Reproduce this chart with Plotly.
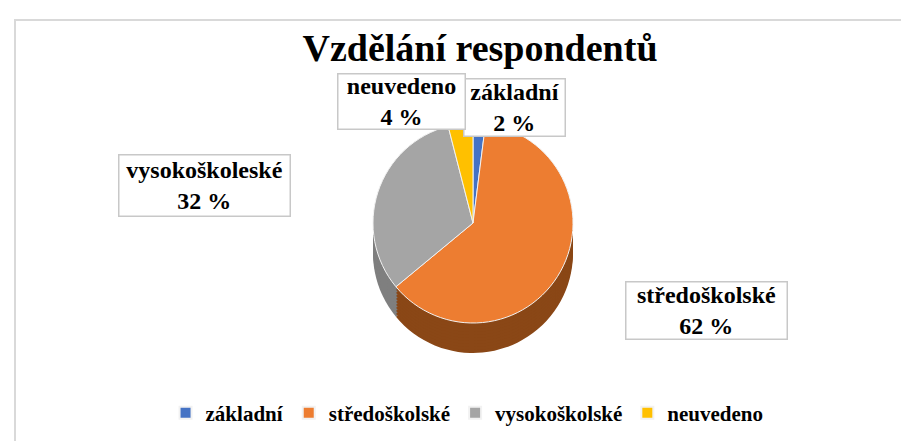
import plotly.graph_objects as go

# ---- data ----
categories = ["základní", "středoškolské", "vysokoškolské", "neuvedeno"]
box_labels = ["základní", "středoškolské", "vysokoškoleské", "neuvedeno"]
values = [2, 62, 32, 4]
title_text = "Vzdělání respondentů"

# ---- styles ----
colors = ["#4472C4", "#ED7D31", "#A5A5A5", "#FFC000"]
side_colors = ["#2F5597", "#8A4716", "#7F7F7F", "#BF9000"]
FONT = "Liberation Serif"
W, H = 909, 441

# pie geometry (pixels)
cx, cy, r = 465, 215, 100
depth = 30


def dom(center_y):
    return dict(
        x=[(cx - r) / W, (cx + r) / W],
        y=[1 - (center_y + r) / H, 1 - (center_y - r) / H],
    )


legend_labels = [f"<b>{c}</b>" for c in categories]

fig = go.Figure()

# side layers (fake 3D depth), drawn from the same data
for off in range(depth, 0, -3):
    fig.add_trace(go.Pie(
        labels=legend_labels, values=values, sort=False, direction="clockwise",
        rotation=0, domain=dom(cy + off),
        marker=dict(colors=side_colors, line=dict(color=side_colors, width=0)),
        textinfo="none", hoverinfo="skip", showlegend=False,
    ))

# top face
fig.add_trace(go.Pie(
    labels=legend_labels, values=values, sort=False, direction="clockwise",
    rotation=0, domain=dom(cy),
    marker=dict(colors=colors, line=dict(color="#F2F2F2", width=1)),
    textinfo="none", hoverinfo="label+percent", showlegend=True,
))

total = sum(values)
# label box placement (pixel centers) and sizes
box_pos = {
    "základní": (506, 99, 96, 52),
    "středoškolské": (698, 302, 156, 52),
    "vysokoškoleské": (196, 178, 166, 56),
    "neuvedeno": (393, 93, 122, 50),
}
for lab, v in zip(box_labels, values):
    x, y, bw, bh = box_pos[lab]
    pct = round(v / total * 100)
    fig.add_annotation(
        x=x / W, y=1 - y / H, xref="paper", yref="paper",
        xanchor="center", yanchor="middle", showarrow=False,
        text=f"<b>{lab}<br>{pct} %</b>",
        font=dict(family=FONT, size=24, color="#000000"),
        bgcolor="#FFFFFF", bordercolor="#C8C8C8", borderwidth=1.5,
        borderpad=2, width=bw, height=bh, align="center",
    )

# chart frame
fig.add_shape(type="rect", xref="paper", yref="paper",
              x0=7 / W, x1=1.05, y0=-0.05, y1=1 - 12 / H,
              line=dict(color="#D9D9D9", width=2), fillcolor="rgba(0,0,0,0)",
              layer="below")

fig.update_layout(
    width=W, height=H,
    margin=dict(l=0, r=0, t=0, b=0),
    font=dict(family=FONT),
    paper_bgcolor="#FFFFFF", plot_bgcolor="#FFFFFF",
    title=dict(text=f"<b>{title_text}</b>", x=472 / W, xanchor="center",
               y=1 - 40 / H, yanchor="middle",
               font=dict(family=FONT, size=38, color="#000000")),
    legend=dict(orientation="h", x=0.505, xanchor="center",
                y=1 - 405 / H, yanchor="middle",
                font=dict(family=FONT, size=21, color="#000000"),
                itemsizing="constant", traceorder="normal"),
    showlegend=True,
)

fig.write_html("out.html")
